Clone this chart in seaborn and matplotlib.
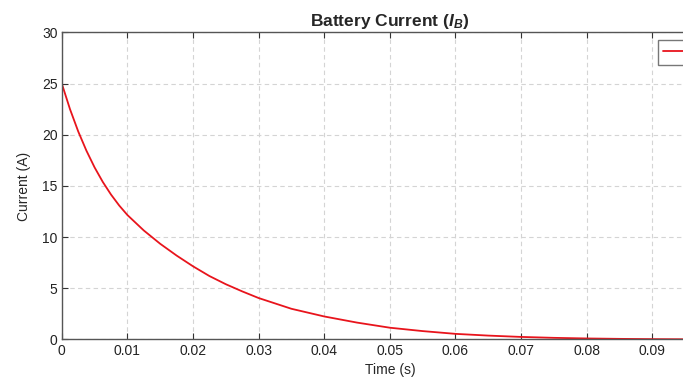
import numpy as np
import pandas as pd
import seaborn as sns
from matplotlib import pyplot as plt

# values
time_s = [0, 0.00125, 0.0025, 0.00375, 0.005, 0.00625, 0.0075, 0.00875, 0.01,
          0.0125, 0.015, 0.0175, 0.02, 0.0225, 0.025, 0.0275,
          0.03, 0.035, 0.04, 0.045, 0.05, 0.055, 0.06, 0.065, 0.07, 0.075,
          0.08, 0.085, 0.09, 0.095, 0.1]
current_a = [25.0, 22.5, 20.33, 18.45, 16.81, 15.39, 14.16, 13.09, 12.16,
             10.65, 9.35, 8.2, 7.15, 6.2, 5.4, 4.7,
             4.05, 3.0, 2.25, 1.65, 1.15, 0.82, 0.55, 0.38, 0.25, 0.16,
             0.10, 0.06, 0.035, 0.02, 0.01]
x_ticks = [0, 0.01, 0.02, 0.03, 0.04, 0.05, 0.06, 0.07, 0.08, 0.09]
x_tick_labels = ["0", "0.01", "0.02", "0.03", "0.04", "0.05", "0.06", "0.07", "0.08", "0.09"]
y_ticks = [0, 5, 10, 15, 20, 25, 30]

sns.set_style("ticks")
plt.rcParams["font.family"] = ["Liberation Sans", "DejaVu Sans"]
plt.rcParams["mathtext.fontset"] = "custom"
plt.rcParams["mathtext.rm"] = "Liberation Sans"
plt.rcParams["mathtext.it"] = "Liberation Sans:italic"
plt.rcParams["mathtext.bf"] = "Liberation Sans:bold"
plt.rcParams["mathtext.bfit"] = "Liberation Sans:italic:bold"

df = pd.DataFrame({"Time (s)": time_s, "Current (A)": current_a})

fig = plt.figure(figsize=(6.83, 3.78), dpi=100)
# axes runs past the right edge, like the cropped reference
ax = fig.add_axes([0.0905, 0.1019, 0.9605, 0.8122])

sns.lineplot(data=df, x="Time (s)", y="Current (A)", color="#e8141c", linewidth=1.3,
             label="$I_B$", ax=ax)

ax.set_xlim(0, 0.1)
ax.set_ylim(0, 30)
ax.set_xticks(x_ticks)
ax.set_xticklabels(x_tick_labels)
ax.set_yticks(y_ticks)
ax.grid(True, color="#d4d4d4", linestyle=(0, (4, 3)), linewidth=0.8)
ax.set_axisbelow(True)

for side in ["left", "bottom", "top", "right"]:
    ax.spines[side].set_color("#555555")
    ax.spines[side].set_linewidth(1.0)
ax.tick_params(axis="both", direction="in", length=4, width=0.8, color="#333333",
               labelsize=10, labelcolor="#222222", top=True, right=True, pad=3)

ax.set_xlabel("Time (s)", fontsize=10, labelpad=4)
ax.set_ylabel("Current (A)", fontsize=10, labelpad=8)
ax.set_title(r"Battery Current ($\mathbfit{I}_\mathbfit{B}$)", fontsize=12.5,
             fontweight="bold", pad=5)

leg = ax.legend(loc="upper left", bbox_to_anchor=(0.9085, 0.977), borderaxespad=0,
                frameon=True, fancybox=False, fontsize=9, handlelength=2.5)
leg.get_frame().set_edgecolor("#555555")
leg.get_frame().set_linewidth(1.0)

plt.savefig("out.png", dpi=100)
plt.close()
